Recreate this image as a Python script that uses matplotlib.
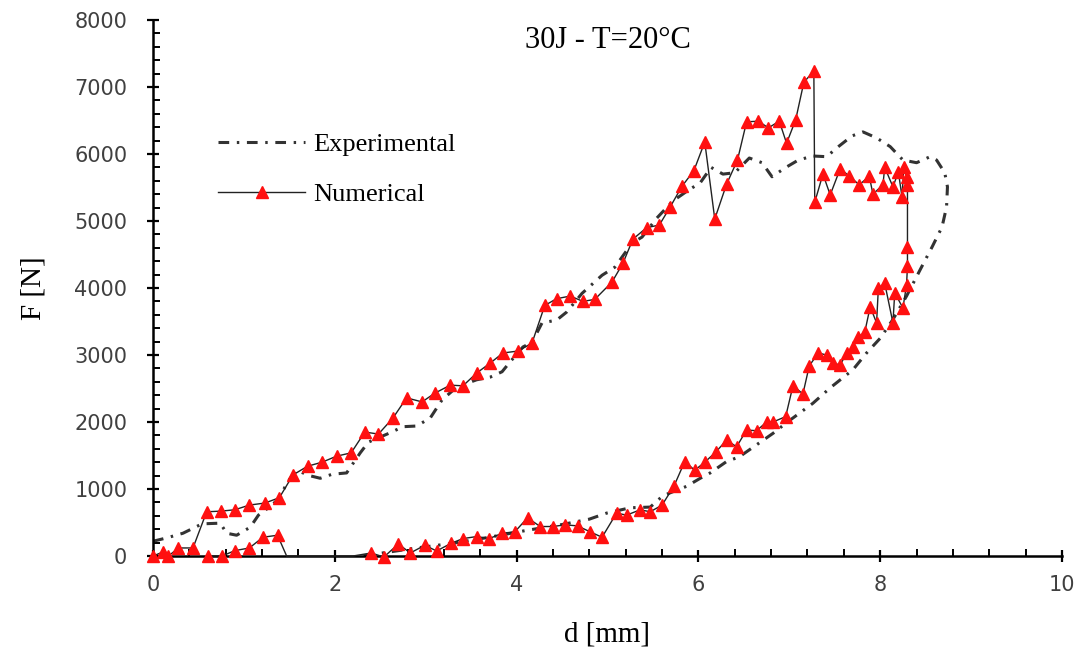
import matplotlib
matplotlib.use("Agg")
import matplotlib.pyplot as plt
from matplotlib.ticker import MultipleLocator
import numpy as np

# numerical curve: loading then unloading (d in mm, F in N)
num_d = [0, 0.11, 0.17, 0.28, 0.44, 0.59, 0.75, 0.90, 1.06, 1.23, 1.39, 1.54, 1.70, 1.86,
         2.02, 2.18, 2.33, 2.48, 2.64, 2.79, 2.96, 3.10, 3.27, 3.41, 3.56, 3.71, 3.85, 4.02,
         4.17, 4.31, 4.44, 4.59, 4.73, 4.86, 5.05, 5.17, 5.28, 5.43, 5.57, 5.69, 5.82, 5.95,
         6.07, 6.18, 6.31, 6.43, 6.53, 6.66, 6.77, 6.89, 6.97, 7.07, 7.16, 7.27, 7.28, 7.37,
         7.45, 7.56, 7.66, 7.77, 7.88, 7.92, 8.03, 8.05, 8.14, 8.20, 8.24, 8.26, 8.29, 8.30,
         8.30, 8.30, 8.29, 8.25, 8.16, 8.14, 8.05, 7.98, 7.96, 7.89, 7.83, 7.76, 7.70, 7.63,
         7.56, 7.48, 7.41, 7.32, 7.22, 7.15, 7.04, 6.96, 6.82, 6.75, 6.64, 6.53, 6.42, 6.31,
         6.19, 6.07, 5.96, 5.85, 5.73, 5.60, 5.47, 5.36, 5.21, 5.10, 4.94, 4.81, 4.67, 4.53,
         4.40, 4.26, 4.12, 3.98, 3.84, 3.70, 3.56, 3.41, 3.28, 3.12, 2.99, 2.83, 2.70, 2.54,
         2.40, 2.20, 1.47, 1.37, 1.21, 1.06, 0.90, 0.76, 0.60]
num_F = [0, 60, 0, 120, 120, 660, 670, 690, 760, 790, 870, 1210, 1340, 1400,
         1490, 1540, 1850, 1820, 2060, 2360, 2300, 2430, 2550, 2540, 2730, 2880, 3030, 3060,
         3180, 3740, 3840, 3880, 3800, 3830, 4090, 4370, 4730, 4900, 4940, 5210, 5520, 5750,
         6180, 5030, 5550, 5910, 6480, 6490, 6390, 6490, 6160, 6510, 7070, 7240, 5280, 5700,
         5390, 5780, 5670, 5540, 5670, 5400, 5540, 5800, 5510, 5730, 5360, 5810, 5660, 5540,
         4610, 4330, 4050, 3700, 3930, 3480, 4070, 4000, 3480, 3720, 3340, 3270, 3120, 3030,
         2850, 2880, 3000, 3030, 2840, 2420, 2540, 2080, 2000, 2000, 1870, 1880, 1630, 1730,
         1550, 1400, 1280, 1410, 1040, 760, 660, 690, 610, 640, 280, 360, 450, 465,
         440, 440, 570, 360, 340, 260, 290, 260, 190, 75, 160, 45, 180, -15,
         45, 0, 0, 310, 280, 120, 80, 0, 0]
num_unmarked = [2.20, 1.47]   # path points along the axis without a marker

# experimental curve
exp_d = [0, 0.15, 0.33, 0.54, 0.74, 0.81, 0.92, 1.07, 1.16, 1.27, 1.40, 1.47, 1.58, 1.72,
         1.84, 1.97, 2.13, 2.28, 2.37, 2.61, 2.75, 2.90, 3.05, 3.18, 3.34, 3.56, 3.71, 3.84,
         3.93, 4.07, 4.17, 4.28, 4.44, 4.55, 4.72, 4.94, 5.08, 5.27, 5.38, 5.54, 5.72, 5.89,
         6.02, 6.14, 6.27, 6.40, 6.56, 6.70, 6.81, 6.95, 7.10, 7.26, 7.41, 7.54, 7.69, 7.81,
         7.96, 8.11, 8.25, 8.40, 8.55, 8.62, 8.71, 8.74, 8.73, 8.68, 8.57, 8.45, 8.29, 8.14,
         8.00, 7.85, 7.70, 7.45, 7.26, 6.97, 6.82, 6.64, 6.45, 6.31, 6.13, 6.02, 5.87, 5.61,
         5.47, 5.25, 4.99, 4.80, 4.50, 4.10, 3.70, 3.30, 2.90, 2.60, 2.30]
exp_F = [220, 270, 340, 480, 490, 340, 310, 430, 610, 720, 870, 1090, 1280, 1200,
         1160, 1220, 1240, 1540, 1700, 1840, 1930, 1940, 2060, 2330, 2520, 2630, 2670, 2750,
         2900, 3120, 3190, 3480, 3520, 3640, 3920, 4190, 4310, 4670, 4760, 5040, 5300, 5460,
         5570, 5800, 5700, 5720, 5940, 5870, 5660, 5790, 5910, 5970, 5960, 6110, 6270, 6330,
         6240, 6110, 5910, 5870, 5960, 5910, 5720, 5510, 5210, 4910, 4610, 4300, 3880, 3530,
         3250, 3030, 2780, 2510, 2280, 1990, 1830, 1660, 1480, 1410, 1240, 1160, 1040, 900,
         730, 720, 640, 550, 470, 380, 280, 190, 120, 60, 0]

plt.rcParams["font.family"] = "Liberation Serif"

fig = plt.figure(figsize=(10.83, 6.58), dpi=100)
ax = fig.add_axes([153 / 1083, 1 - 556 / 658, (1062 - 153) / 1083, (556 - 20) / 658])

ax.plot(exp_d, exp_F, color="#333333", lw=2.2, ls=(0, (3.5, 2.5, 0.8, 2.5)),
        label="Experimental", zorder=2)
marked = [i for i, d in enumerate(num_d)
          if not (d in num_unmarked and num_F[i] == 0)]
ax.plot(num_d, num_F, color="#222222", lw=1.0, marker="^", ms=8.5, mfc="#ff1010",
        mec="#ff1010", markevery=marked, label="Numerical", zorder=3, clip_on=False)

ax.set_xlim(0, 10)
ax.set_ylim(0, 8000)
ax.xaxis.set_major_locator(MultipleLocator(2))
ax.xaxis.set_minor_locator(MultipleLocator(0.4))
ax.yaxis.set_major_locator(MultipleLocator(1000))
ax.yaxis.set_minor_locator(MultipleLocator(200))
ax.tick_params(which="major", direction="inout", length=9, width=1.6,
               labelsize=15, labelcolor="#404040")
ax.tick_params(axis="x", which="major", pad=9)
ax.tick_params(axis="y", which="major", pad=14)
ax.tick_params(which="minor", direction="in", length=5, width=1.4)
for lab in ax.get_xticklabels() + ax.get_yticklabels():
    lab.set_family("DejaVu Sans")
for side in ("top", "right"):
    ax.spines[side].set_visible(False)
for side in ("left", "bottom"):
    ax.spines[side].set_linewidth(1.8)

ax.set_xlabel("d [mm]", fontsize=21, labelpad=19)
ax.set_ylabel("F [N]", fontsize=21, labelpad=20)
ax.text(0.5, 0.962, "30J - T=20°C", transform=ax.transAxes, ha="center", va="center",
        fontsize=22)

ax.legend(loc="upper left", bbox_to_anchor=(0.0715, 0.79), frameon=False, fontsize=19,
          handlelength=3.3, handletextpad=0.3, labelspacing=1.0, numpoints=1,
          borderaxespad=0, borderpad=0)

fig.savefig("out.png", dpi=100)
